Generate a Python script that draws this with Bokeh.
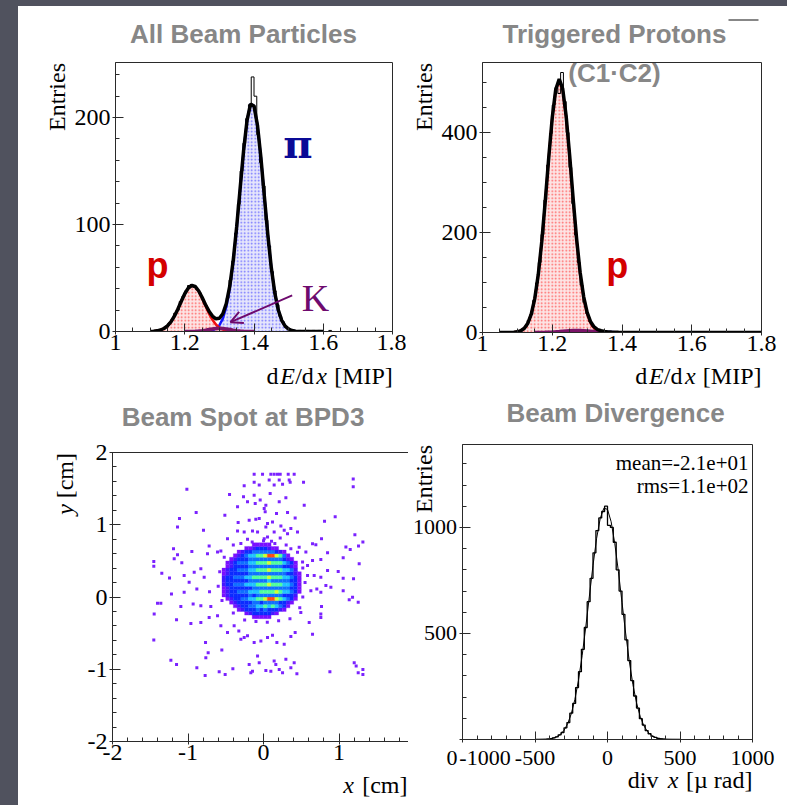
import math
from bokeh.plotting import figure
from bokeh.models import Label, Arrow, OpenHead, FixedTicker, LinearAxis, Range1d, Spacer
from bokeh.layouts import column, row
from bokeh.embed import file_html
from bokeh.resources import INLINE

# ---------------------------------------------------------------- data
# Panel 1 : All Beam Particles, dE/dx histogram (bins of 0.008 MIP)
p1_bin_lo = 1.096
p1_bin_w = 0.008
p1_counts = [0, 0, 1, 1, 2, 3, 4, 8, 11, 17,
             20, 28, 33, 38, 43, 44, 42, 39, 36, 30,
             25, 20, 15, 13, 12, 12, 15, 21, 31, 48,
             66, 92, 119, 150, 176, 199, 212, 238, 220, 184,
             158, 136, 104, 80, 56, 38, 25, 14, 9, 4,
             3, 1, 1, 0, 1, 0, 1, 1, 0, 1,
             0, 1, 0, 0, 0, 1, 0]
# fit curves sampled every 0.01 MIP
p1_total_x0 = 1.10
p1_total = [0.1, 0.3, 0.6, 1.4, 2.8, 5.2, 9.0, 14.3, 20.9, 28.3,
            35.3, 40.5, 43.0, 42.1, 38.1, 32.0, 25.0, 19.0, 14.4, 11.9,
            12.4, 16.6, 26.2, 42.4, 66.5, 98.0, 133.9, 169.3, 197.6, 212.6,
            210.9, 192.8, 162.4, 126.1, 90.2, 59.5, 36.2, 20.3, 10.5, 5.0,
            2.2, 0.9, 0.3, 0.1, 0, 0, 0, 0, 0, 0, 0]
p1_proton_x0 = 1.10
p1_proton = [0.1, 0.3, 0.6, 1.4, 2.8, 5.2, 9.0, 14.3, 20.9, 28.3,
             35.3, 40.5, 42.9, 41.9, 37.7, 31.2, 23.8, 16.8, 10.9, 6.5,
             3.6, 1.8, 0.9, 0.4, 0.2, 0.1]
p1_pion_x0 = 1.27
p1_pion = [0.4, 1.1, 2.6, 5.8, 12.0, 22.9, 40.2, 65.1, 97.1, 133.5,
           169.1, 197.5, 212.6, 210.9, 192.8, 162.4, 126.1, 90.2, 59.5, 36.2,
           20.3, 10.5, 5.0, 2.2, 0.9, 0.3, 0.1]
p1_kaon_x0 = 1.20
p1_kaon = [0.01, 0.03, 0.09, 0.2, 0.4, 0.75, 1.2, 1.8, 2.4, 2.8, 3.0,
           2.8, 2.4, 1.8, 1.2, 0.75, 0.4, 0.2, 0.09, 0.03, 0.01]

# Panel 2 : Triggered Protons
p2_bin_lo = 1.088
p2_bin_w = 0.008
p2_counts = [0, 1, 3, 7, 12, 24, 36, 64, 99, 140,
             196, 265, 335, 398, 455, 490, 478, 520, 462, 400,
             330, 258, 195, 140, 95, 60, 38, 22, 12, 6,
             4, 2, 1, 1, 0, 0]
p2_total_x0 = 1.05
p2_total = [0, 0, 0, 0.2, 0.5,
            1.4, 3.6, 8.5, 18.5, 37.1, 68.3, 116.3, 182.2, 263.2, 350.3,
            429.8, 486.1, 506.8, 487.2, 431.9, 353.3, 266.8, 186.0, 120.1, 71.8,
            40.4, 21.4, 11.1, 5.9, 3.5, 2.2, 1.2, 0.8, 0.5, 0.3,
            0.2, 0, 0, 0, 0, 0, 0, 0, 0, 0,
            0, 0, 0, 0, 0, 0, 0, 0, 0, 0,
            0, 0, 0, 0, 0, 0, 0, 0, 0, 0,
            0, 0, 0, 0, 0, 0, 0, 0, 0, 0, 0]
p2_proton_x0 = 1.08
p2_proton = [0.2, 0.5,
             1.4, 3.6, 8.5, 18.5, 37.1, 68.3, 116.2, 182.0, 262.9, 349.8,
             428.9, 484.8, 505.0, 484.8, 428.9, 349.8, 262.9, 182.0, 116.2, 68.3,
             37.1, 18.5, 8.5, 3.6, 1.4, 0.5, 0.2]
p2_kaon_x0 = 1.15
p2_kaon = [0.04, 0.09, 0.18, 0.32, 0.54, 0.86, 1.3, 1.83, 2.43, 3.02, 3.53,
           3.88, 4.0, 3.88, 3.53, 3.02, 2.43, 1.83, 1.3, 0.86, 0.54]
p2_pion_x0 = 1.30
p2_pion = [0.3, 0.5, 0.8, 1.0, 1.2, 1.2, 1.0, 0.8, 0.5, 0.3, 0.2]

# Panel 3 : Beam spot at BPD3 -- binned core (0.05 cm cells, colour level 1..8)
spot_x0 = -0.55
spot_y0 = -0.30
spot_cell = 0.05
spot_levels = [  # bottom row first
    [0,0,0,0,0,0,0,0,1,1,1,1,1,0,0,0,0,0,0,0,0],
    [0,0,0,0,0,0,1,2,3,3,3,3,3,2,1,0,0,0,0,0,0],
    [0,0,0,0,1,2,3,3,3,4,3,4,3,3,3,2,1,0,0,0,0],
    [0,0,0,1,2,3,3,4,4,5,5,6,5,6,5,4,3,1,0,0,0],
    [0,0,1,2,3,3,3,3,4,4,3,4,4,4,4,3,3,2,1,0,0],
    [0,1,2,3,3,4,4,5,5,6,6,7,8,8,7,6,5,4,3,1,0],
    [1,2,3,3,3,3,3,4,3,4,4,4,4,4,4,4,3,3,3,2,0],
    [1,2,3,3,4,4,4,5,5,5,6,6,6,6,7,6,5,5,4,3,1],
    [1,2,3,3,3,3,3,3,4,4,4,4,4,4,4,4,4,4,3,3,1],
    [2,3,3,4,4,4,5,5,5,6,6,6,7,6,6,6,5,5,4,3,1],
    [2,3,3,3,3,3,3,4,4,4,4,4,5,4,4,4,4,4,3,3,1],
    [2,3,3,4,4,4,5,5,6,6,6,6,7,6,6,6,5,5,4,3,1],
    [1,2,3,3,3,3,3,4,4,4,4,4,4,4,4,4,4,3,3,2,1],
    [1,2,3,3,4,4,4,5,5,6,6,6,7,6,6,6,5,5,4,2,0],
    [0,1,2,3,3,3,3,4,4,4,4,4,4,4,4,4,3,3,2,1,0],
    [0,1,2,3,4,4,4,5,5,6,6,6,7,6,6,6,5,4,3,1,0],
    [0,0,1,2,3,3,3,4,4,4,4,4,4,4,4,4,3,2,1,0,0],
    [0,0,0,1,2,3,4,5,5,6,6,7,8,8,7,6,4,1,0,0,0],
    [0,0,0,0,1,2,3,3,4,4,4,4,4,4,3,2,1,0,0,0,0],
    [0,0,0,0,0,0,1,1,2,3,3,3,2,1,1,0,0,0,0,0,0],
    [0,0,0,0,0,0,0,0,1,1,1,1,1,0,0,0,0,0,0,0,0],
]
spot_palette = ["#7a10ff", "#4418ff", "#0c2cff", "#1070ff",
                "#20c4ff", "#50ff9c", "#d0ff30", "#ff4a18"]
spot_outliers = [
    (-0.124,1.698),(-0.013,1.698),(0.097,1.698),(0.141,1.698),(0.185,1.698),(0.221,1.698),
    (0.327,1.698),(0.406,1.698),(0.075,1.62),(0.208,1.62),(0.340,1.62),(0.353,1.587),
    (0.530,1.587),(0.252,1.559),(0.141,1.55),(-0.124,1.587),(-0.057,1.55),(-0.256,1.541),
    (1.188,1.633),(1.188,1.527),(-1.015,1.49),(-0.450,1.42),(-0.124,1.41),(-0.044,1.341),
    (0.088,1.434),(0.296,1.374),(0.208,1.318),(-0.265,1.387),(-0.212,1.318),(0.031,1.271),
    (-0.344,1.248),(0.539,1.271),(-0.110,1.295),(0.009,1.225),(-0.892,1.169),(-0.512,1.132),
    (0.022,1.179),(0.172,1.155),(0.318,1.169),(0.419,1.095),(0.949,1.109),(0.808,1.049),
    (-1.113,1.086),(-1.139,0.970),(-0.190,1.063),(-0.102,1.077),(-0.057,1.086),(0.053,1.016),
    (0.119,1.039),(0.031,0.970),(0.230,0.984),(-0.336,1.030),(-0.344,0.914),(-0.146,0.914),
    (-0.079,0.900),(-0.256,0.900),(0.141,0.900),(0.274,0.923),(0.362,0.947),(-0.795,0.923),
    (1.210,0.863),(1.316,0.761),(0.768,0.807),(0.649,0.738),(1.091,0.691),(1.148,0.659),
    (1.258,0.705),(-0.477,0.807),(-0.212,0.798),(0.009,0.807),(0.053,0.831),(0.106,0.770),
    (0.221,0.817),(0.318,0.877),(0.450,0.900),(-0.720,0.705),(-0.565,0.636),(-1.192,0.668),
    (-1.139,0.585),(-0.949,0.631),(-0.742,0.599),(-0.609,0.622),(0.362,0.668),(0.472,0.687),
    (0.561,0.622),(0.693,0.724),(0.848,0.613),(1.055,0.543),(1.267,0.459),
    (-1.453,0.492),(-1.453,0.427),(-1.347,0.329),(-1.245,0.264),(-1.082,0.473),(-1.183,0.529),
    (-1.051,0.297),(-0.918,0.343),(-0.830,0.390),(-0.786,0.274),(-0.985,0.204),(-1.219,0.042),
    (-1.051,0.065),(-0.883,0.111),(-0.715,0.074),(-1.404,-0.088),(-1.360,-0.088),(-1.095,-0.130),
    (-0.932,-0.097),(-0.830,-0.121),(-0.698,-0.130),(-1.448,-0.237),(-1.152,-0.316),(-0.962,-0.367),
    (-0.830,-0.353),(-0.720,-0.283),(-0.609,-0.260),(-0.565,-0.399),(-0.477,-0.492),(-0.389,-0.399),
    (0.517,0.483),(0.583,0.436),(0.649,0.506),(0.759,0.520),(0.848,0.367),(0.989,0.353),
    (1.055,0.260),(1.192,0.251),(0.583,0.297),(0.671,0.297),(0.759,0.274),(0.826,0.158),
    (0.892,0.135),(0.627,0.088),(0.706,0.111),(0.759,0.065),(1.055,0.088),(1.135,-0.037),
    (1.179,-0.005),(1.254,-0.074),(0.768,-0.130),(0.759,-0.237),(0.759,-0.283),(0.649,-0.515),
    (0.605,-0.353),(0.494,-0.213),
    (-1.453,-0.594),(-1.227,-0.877),(-1.152,-0.933),(-0.883,-0.979),(-0.768,-0.631),(-0.764,-0.840),
    (-0.733,-0.770),(-0.552,-0.733),(-0.587,-1.035),(-0.508,-1.072),(-0.406,-0.993),(-0.327,-0.469),
    (-0.300,-0.585),(-0.212,-0.538),(-0.124,-0.631),(-0.256,-0.561),(-0.035,-0.608),(0.053,-0.561),
    (0.119,-0.529),(0.177,-0.631),(0.274,-0.654),(0.419,-0.492),(0.362,-0.548),(-0.190,-0.933),
    (-0.168,-1.049),(-0.146,-1.026),(-0.079,-0.817),(-0.057,-0.910),(0.031,-1.016),(0.097,-1.026),
    (0.141,-0.886),(0.163,-0.933),(0.208,-1.002),(0.252,-1.049),(0.296,-0.863),(0.362,-0.979),
    (0.406,-0.910),(0.442,-1.063),(0.879,-1.035),(1.201,-0.910),(1.227,-0.956),(1.254,-1.049),
    (1.316,-1.072),(1.316,-1.002),(-0.773,-1.086),
    (-0.40,0.72),(-0.30,0.74),(-0.15,0.76),(0.0,0.78),(0.15,0.74),(0.30,0.72),(0.45,0.62),
    (0.52,0.40),(0.55,0.20),(0.52,0.0),(0.48,-0.15),(0.35,-0.30),(0.20,-0.33),(0.05,-0.35),
    (-0.10,-0.34),(-0.25,-0.32),(-0.40,-0.22),(-0.55,-0.05),(-0.60,0.15),(-0.58,0.35),(-0.52,0.55),
]

# Panel 4 : Beam divergence (bins of 20 urad)
p4_bin_lo = -500
p4_bin_w = 20
p4_counts = [0, 0, 1, 1, 2, 3, 8, 12, 22, 33,
             55, 80, 124, 170, 245, 320, 425, 528, 650, 760,
             880, 985, 1045, 1075, 1100, 1010, 1000, 930, 800, 700,
             590, 470, 372, 278, 205, 148, 98, 68, 42, 27,
             15, 10, 5, 3, 2, 1, 0, 1, 0, 0]
p4_fit_x0 = -500
p4_fit_step = 25
p4_fit = [0.1, 0.2, 0.6, 1.3, 3.0, 6.2, 12.5, 23.8, 43, 74,
          121, 189, 280, 395, 530, 676, 821, 949, 1043, 1091,
          1085, 1027, 925, 793, 646, 502, 370, 260, 173, 110,
          66, 38.4, 21, 10.9, 5.4, 2.6, 1.1, 0.5, 0.2, 0.1, 0]
p4_stats = ["mean=-2.1e+01", "rms=1.1e+02"]
p4_x_ticks = [-1000, -500, 0, 500, 1000]
p4_y_ticks = [0, 500, 1000]

# ---------------------------------------------------------------- style
BG = "#50525e"
GRAY = "#878787"
SERIF = "Liberation Serif"
SANS = "Liberation Sans"
FRAME = "#2a2a2a"
# distance from the alphabetic baseline to the middle of the text box, per px of font size
MID = {SERIF: 0.3375, SANS: 0.3465, "DejaVu Serif": 0.35}


def grid_x(x0, step, n):
    return [round(x0 + step * i, 5) for i in range(n)]


def hist_steps(lo, w, counts):
    xs, ys = [], []
    for i, c in enumerate(counts):
        xs += [lo + i * w, lo + (i + 1) * w]
        ys += [c, c]
    return xs, ys


def make_fig(w, h, xr, yr, bl, br, bt, bb, outline=True):
    p = figure(width=w, height=h, x_range=Range1d(*xr), y_range=Range1d(*yr),
               output_backend="svg", toolbar_location=None, title=None,
               min_border_left=bl, min_border_right=br, min_border_top=bt,
               min_border_bottom=bb, background_fill_color="white",
               border_fill_color="white",
               outline_line_color=FRAME if outline else None, outline_line_width=1)
    p.xgrid.visible = False
    p.ygrid.visible = False
    return p


def strip(x0, x1, y0, y1, bt=0, bb=0):
    """text strip whose data coordinates are page pixels (y downwards)"""
    s = figure(width=x1 - x0, height=y1 - y0, x_range=Range1d(x0, x1),
               y_range=Range1d(y1 - bb, y0 + bt), output_backend="svg",
               toolbar_location=None, title=None, x_axis_type=None, y_axis_type=None,
               min_border=0, min_border_left=0, min_border_right=0,
               min_border_top=bt, min_border_bottom=bb,
               background_fill_color="white", border_fill_color="white",
               outline_line_color=None)
    return s


def style_axis(ax, ticks, minor, overrides, size="24px", standoff=2):
    ax.ticker = FixedTicker(ticks=ticks, minor_ticks=minor)
    ax.major_label_overrides = overrides
    ax.axis_line_color = FRAME
    ax.major_tick_line_color = FRAME
    ax.minor_tick_line_color = FRAME
    ax.major_tick_in = 8
    ax.major_tick_out = 3
    ax.minor_tick_in = 4
    ax.minor_tick_out = 0
    ax.major_label_text_font = SERIF
    ax.major_label_text_font_size = size
    ax.major_label_text_color = "black"
    ax.major_label_standoff = standoff


def lab(p, x, y, text, size, color="black", font=SERIF, style="normal",
        align="left", angle=0.0, ppu=None):
    """y is the alphabetic baseline; ppu = screen px per data unit (None: page strip)"""
    shift = MID.get(font, 0.34) * size
    if angle != 0.0:
        x = x - shift if ppu is None else x - shift / ppu
    else:
        y = y - shift if ppu is None else y + shift / ppu
    p.add_layout(Label(x=x, y=y, text=text, text_font=font,
                       text_font_size=f"{size}px", text_color=color,
                       text_font_style=style, text_align=align,
                       text_baseline="middle", angle=angle))


def dedx_label(s, rights, y):
    # right edges (page px) of: [MIP], x, /d, E, d
    lab(s, rights[0], y, "[MIP]", 24, align="right")
    lab(s, rights[1], y, "x", 24, style="italic", align="right")
    lab(s, rights[2], y, "/d", 24, align="right")
    lab(s, rights[3], y, "E", 24, style="italic", align="right")
    lab(s, rights[4], y, "d", 24, align="right")


dedx_ticks = [1.0, 1.2, 1.4, 1.6, 1.8]
dedx_minor = [round(1.0 + 0.05 * i, 3) for i in range(17)]
dedx_over = {1.0: "1", 1.2: "1.2", 1.4: "1.4", 1.6: "1.6", 1.8: "1.8"}

# ---------------------------------------------------------------- panel 1
A = make_fig(335, 306, (1.0, 1.8), (0, 251.5), 44, 14, 6, 31)
style_axis(A.xaxis[0], dedx_ticks, dedx_minor, dedx_over, standoff=0)
style_axis(A.yaxis[0], [0, 100, 200], [20 * i for i in range(13)],
           {0: "0", 100: "100", 200: "200"}, standoff=2)

px = grid_x(p1_pion_x0, 0.01, len(p1_pion))
A.varea(x=px, y1=0, y2=p1_pion, fill_color="#e6e6fc", hatch_pattern="dot",
        hatch_color="#5050ff", hatch_scale=3.5, hatch_weight=1, hatch_alpha=0.8)
prx = grid_x(p1_proton_x0, 0.01, len(p1_proton))
A.varea(x=prx, y1=0, y2=p1_proton, fill_color="#fde4e4", hatch_pattern="dot",
        hatch_color="#ff4040", hatch_scale=3.5, hatch_weight=1, hatch_alpha=0.8)
hx, hy = hist_steps(p1_bin_lo, p1_bin_w, p1_counts)
A.line(hx, hy, line_color="black", line_width=1)
A.line(px, p1_pion, line_color="#1414ff", line_width=2.5)
A.line(prx, p1_proton, line_color="#f01010", line_width=2.5)
A.line(grid_x(p1_kaon_x0, 0.01, len(p1_kaon)), p1_kaon, line_color="#7a1468", line_width=3.5)
A.line(grid_x(p1_total_x0, 0.01, len(p1_total)), p1_total, line_color="black", line_width=3.5)

PPU_A = 1.0696
lab(A, 1.1213, 50.0, "p", 36, "#d40000", SANS, "bold", "center", ppu=PPU_A)
lab(A, 1.5271, 163.1, "\u03c0", 40, "#0a0a96", "DejaVu Serif", "bold", "center", ppu=PPU_A)
lab(A, 1.5776, 19.6, "K", 38, "#6e0a6e", SERIF, "normal", "center", ppu=PPU_A)
A.add_layout(Arrow(end=OpenHead(size=12, line_color="#6e0a6e", line_width=2),
                   x_start=1.5103, y_start=33.7, x_end=1.3321, y_end=8.7,
                   line_color="#6e0a6e", line_width=2))

TA = strip(18, 406, 6, 56)
lab(TA, 243, 42.7, "All Beam Particles", 26, GRAY, SANS, "bold", "center")
LA = strip(18, 71, 56, 362, bt=6, bb=31)
lab(LA, 65, 62.5, "Entries", 24, align="right", angle=math.pi / 2)
BA = strip(18, 406, 362, 395)
dedx_label(BA, [392.3, 326.5, 313.3, 294.5, 278.0], 384)
panel_a = column(TA, row(LA, A), BA)

# ---------------------------------------------------------------- panel 2
B = make_fig(349, 306, (1.0, 1.8), (0, 540), 44, 26, 6, 30)
style_axis(B.xaxis[0], dedx_ticks, dedx_minor, dedx_over, standoff=0)
style_axis(B.yaxis[0], [0, 200, 400], [50 * i for i in range(11)],
           {0: "0", 200: "200", 400: "400"}, standoff=2)
prx2 = grid_x(p2_proton_x0, 0.01, len(p2_proton))
B.varea(x=prx2, y1=0, y2=p2_proton, fill_color="#fde4e4", hatch_pattern="dot",
        hatch_color="#ff4040", hatch_scale=3.5, hatch_weight=1, hatch_alpha=0.8)
hx2, hy2 = hist_steps(p2_bin_lo, p2_bin_w, p2_counts)
B.line(hx2, hy2, line_color="black", line_width=1)
B.line(grid_x(p2_pion_x0, 0.01, len(p2_pion)), p2_pion, line_color="#1414ff", line_width=2.5)
B.line(prx2, p2_proton, line_color="#f01010", line_width=2.5)
B.line(grid_x(p2_kaon_x0, 0.01, len(p2_kaon)), p2_kaon, line_color="#7a1468", line_width=3.5)
B.line(grid_x(p2_total_x0, 0.01, len(p2_total)), p2_total, line_color="black", line_width=3.5)
PPU_B = 0.5
lab(B, 1.3785, 500.0, "(C1\u00b7C2)", 26, GRAY, SANS, "bold", "center", ppu=PPU_B)
lab(B, 1.3862, 109.2, "p", 36, "#d40000", SANS, "bold", "center", ppu=PPU_B)

TB = strip(406, 787, 6, 56)
lab(TB, 614, 42.7, "Triggered Protons", 26, GRAY, SANS, "bold", "center")
TB.segment(x0=[728], y0=[19.5], x1=[758], y1=[19.5], line_color=GRAY, line_width=2.2)
LB = strip(406, 438, 56, 362, bt=6, bb=30)
lab(LB, 432, 62.5, "Entries", 24, align="right", angle=math.pi / 2)
BB = strip(406, 787, 362, 395)
dedx_label(BB, [761.0, 695.2, 682.0, 663.2, 646.7], 384)
panel_b = column(TB, row(LB, B), BB)

# ---------------------------------------------------------------- panel 3
C = make_fig(324, 335, (-2.0, 1.92), (-2.0, 2.0), 28, 0, 16, 30, outline=False)
style_axis(C.xaxis[0], [-2, -1, 0, 1], [round(-2 + 0.2 * i, 2) for i in range(20)],
           {-2: "-2", -1: "-1", 0: "0", 1: "1"}, standoff=0)
style_axis(C.yaxis[0], [-2, -1, 0, 1, 2], [round(-2 + 0.2 * i, 2) for i in range(21)],
           {-2: "-2", -1: "-1", 0: "0", 1: "1", 2: "2"}, standoff=2)
top_axis = LinearAxis(ticker=FixedTicker(ticks=[]), axis_line_color=FRAME,
                      major_tick_line_color=None, minor_tick_line_color=None,
                      major_label_text_font_size="0px")
C.add_layout(top_axis, "above")

ox = [pt[0] for pt in spot_outliers]
oy = [pt[1] for pt in spot_outliers]
C.scatter(ox, oy, marker="square", size=3, fill_color="#7b22ff", line_color=None)
cx, cy, cc = [], [], []
for j, rowv in enumerate(spot_levels):
    for i, lv in enumerate(rowv):
        if lv > 0:
            cx.append(spot_x0 + spot_cell * (i + 0.5))
            cy.append(spot_y0 + spot_cell * (j + 0.5))
            cc.append(spot_palette[lv - 1])
C.rect(x=cx, y=cy, width=spot_cell, height=spot_cell, fill_color=cc, line_color=cc,
       line_width=0.3)

TC = strip(18, 408, 395, 436)
lab(TC, 242.5, 426, "Beam Spot at BPD3", 26, GRAY, SANS, "bold", "center")
LC = strip(18, 84, 436, 771, bt=16, bb=30)
lab(LC, 72.5, 452.5, "[cm]", 24, align="right", angle=math.pi / 2)
lab(LC, 72.5, 503.5, "y", 24, style="italic", align="right", angle=math.pi / 2)
BC = strip(18, 408, 771, 805)
lab(BC, 407.0, 792.5, "[cm]", 24, align="right")
lab(BC, 353.5, 792.5, "x", 24, style="italic", align="right")
panel_c = column(TC, row(LC, C), BC)

# ---------------------------------------------------------------- panel 4
D = make_fig(328, 309, (-1000, 1000), (0, 1391), 3, 35, 8, 6)
style_axis(D.xaxis[0], p4_x_ticks, [-1000 + 100 * i for i in range(21)],
           {v: "" for v in p4_x_ticks}, size="22px", standoff=0)
style_axis(D.yaxis[0], p4_y_ticks, [100 * i for i in range(14)],
           {v: "" for v in p4_y_ticks}, size="22px", standoff=0)
hx4, hy4 = hist_steps(p4_bin_lo, p4_bin_w, p4_counts)
D.line(hx4, hy4, line_color="black", line_width=1.3)
D.line(grid_x(p4_fit_x0, p4_fit_step, len(p4_fit)), p4_fit, line_color="black", line_width=1)
PPU_D = 295.0 / 1391.0
lab(D, 972.4, 1268.3, p4_stats[0], 21, align="right", ppu=PPU_D)
lab(D, 972.4, 1163.1, p4_stats[1], 21, align="right", ppu=PPU_D)

# tick labels of panel 4 placed on the axis scales (frame: x 462..752, y 739..444 px)
D_X0, D_XPPU, D_Y0 = 462.0, 290.0 / 2000.0, 739.0
TD = strip(408, 787, 395, 436)
lab(TD, 615, 422, "Beam Divergence", 26, GRAY, SANS, "bold", "center")
LD = strip(408, 459, 436, 745, bt=8, bb=6)
lab(LD, 432, 444.5, "Entries", 24, align="right", angle=math.pi / 2)
for tv in p4_y_ticks[1:]:
    lab(LD, 456.5, D_Y0 - tv * PPU_D + 0.3375 * 22, str(tv), 22, align="right")
BD = strip(408, 787, 745, 805)
for tv in p4_x_ticks:
    sx = D_X0 + (tv + 1000) * D_XPPU
    if tv == -1000:
        sx += 22.5  # ROOT pushes the first label inside the frame
    lab(BD, sx, 765, str(tv), 22, align="center")
lab(BD, 457, 765, str(p4_y_ticks[0]), 22, align="right")
lab(BD, 752, 788, "[\u00b5 rad]", 24, align="right")
lab(BD, 678, 788, "x", 24, style="italic", align="right")
lab(BD, 658, 788, "div", 24, align="right")
panel_d = column(TD, row(LD, D), BD)

# ---------------------------------------------------------------- page
layout = column(Spacer(width=787, height=6, styles={"background-color": BG}),
                row(Spacer(width=18, height=799, styles={"background-color": BG}),
                    column(row(panel_a, panel_b), row(panel_c, panel_d))))

open("out.html", "w").write(file_html(layout, INLINE))
